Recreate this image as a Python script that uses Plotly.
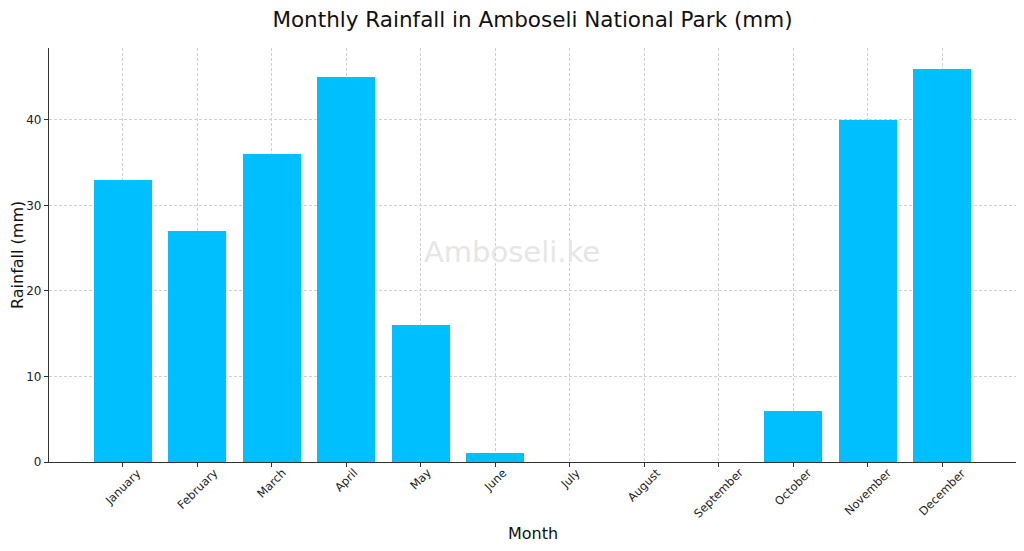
import plotly.graph_objects as go

# Monthly rainfall values
months = ["January", "February", "March", "April", "May", "June",
          "July", "August", "September", "October", "November", "December"]
rainfall_mm = [33, 27, 36, 45, 16, 1, 0, 0, 0, 6, 40, 46]

y_ticks = [0, 10, 20, 30, 40]

FONT = "DejaVu Sans"

# the page puts an 8px body margin around the figure, so the figure is
# sized and offset to land where the reference drawing sits
W, H = 1016, 543
L, R, T, B = 41, 8, 40, 89
PW, PH = W - L - R, H - T - B

fig = go.Figure()

fig.add_trace(go.Bar(
    x=months,
    y=rainfall_mm,
    width=0.78,
    marker=dict(color="#00BFFF", line=dict(width=0)),
))

# matplotlib-style rotated tick labels, centred under each tick
for m in months:
    fig.add_annotation(
        x=m, y=0, xref="x", yref="paper",
        text=m, textangle=-45, showarrow=False,
        xanchor="center", yanchor="top", yshift=-1,
        font=dict(family=FONT, size=11.5, color="#222222"),
    )

# x axis title (placed below the rotated labels)
fig.add_annotation(
    x=0.5, y=-0.172, xref="paper", yref="paper",
    text="Month", showarrow=False, xanchor="center", yanchor="middle",
    font=dict(family=FONT, size=16, color="#111111"),
)

# y axis title
fig.add_annotation(
    x=(9 - L) / PW, y=0.5, xref="paper", yref="paper",
    text="Rainfall (mm)", textangle=-90, showarrow=False,
    xanchor="center", yanchor="middle",
    font=dict(family=FONT, size=16, color="#111111"),
)

# watermark, centred on the figure rather than the axes
fig.add_annotation(
    x=(504 - L) / PW, y=(T + PH - 244) / PH, xref="paper", yref="paper",
    text="Amboseli.ke", showarrow=False,
    font=dict(family=FONT, size=29, color="#e6e6e6"),
)

fig.update_layout(
    width=W, height=H,
    margin=dict(l=L, r=R, t=T, b=B, autoexpand=False),
    paper_bgcolor="white",
    plot_bgcolor="white",
    showlegend=False,
    bargap=0,
    title=dict(
        text="Monthly Rainfall in Amboseli National Park (mm)",
        x=(L + W - R) / 2 / W, xanchor="center",
        y=1 - 11 / H, yanchor="middle",
        xref="container", yref="container",
        font=dict(family=FONT, size=21.5, color="#111111"),
    ),
    font=dict(family=FONT),
)

fig.update_xaxes(
    range=[-0.99, 11.99],
    showticklabels=False,
    ticks="outside", ticklen=4, tickwidth=1.2, tickcolor="#333333",
    showline=True, linecolor="#333333", linewidth=1.3,
    showgrid=True, gridcolor="#d0d0d0", gridwidth=0.7, griddash="3px,2px",
    zeroline=False,
)

fig.update_yaxes(
    range=[0, 48.4],
    tickvals=y_ticks,
    ticks="outside", ticklen=4, tickwidth=1.2, tickcolor="#333333",
    tickfont=dict(family=FONT, size=12, color="#222222"),
    showline=True, linecolor="#333333", linewidth=1.3,
    showgrid=True, gridcolor="#d0d0d0", gridwidth=0.7, griddash="3px,2px",
    zeroline=False,
    automargin=False,
)

fig.write_html("out.html")
